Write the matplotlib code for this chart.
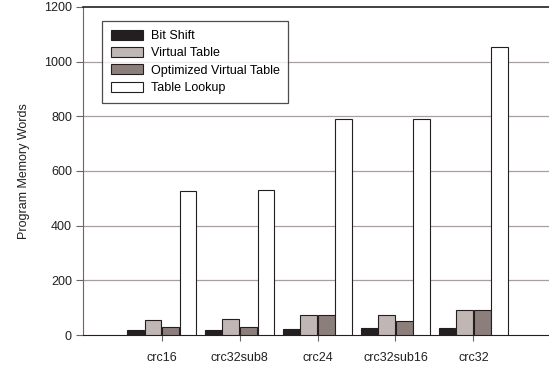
import matplotlib
matplotlib.use('Agg')
import matplotlib.pyplot as plt
import numpy as np

categories = ['crc16', 'crc32sub8', 'crc24', 'crc32sub16', 'crc32']
bit_shift = [19, 20, 23, 24, 27]
virtual_table = [55, 58, 73, 73, 91]
opt_virtual_table = [29, 30, 73, 52, 91]
table_lookup = [528, 531, 790, 791, 1055]

series = [
    ('Bit Shift', bit_shift, '#231f20'),
    ('Virtual Table', virtual_table, '#c0b6b4'),
    ('Optimized Virtual Table', opt_virtual_table, '#8c7f7b'),
    ('Table Lookup', table_lookup, '#ffffff'),
]

plt.rcParams['font.family'] = ['Liberation Sans', 'DejaVu Sans']
plt.rcParams['font.size'] = 9

fig = plt.figure(figsize=(5.49, 3.66), dpi=100)
ax = fig.add_axes([83 / 549, 31 / 366, 1 - 83 / 549, 328 / 366])

x = np.arange(len(categories))
w = 0.215
for i, (name, vals, col) in enumerate(series):
    ax.bar(x + (i - 1.5) * 0.225, vals, w, color=col, edgecolor='#231f20',
           linewidth=0.8, label=name, zorder=3)

ax.set_xlim(-1.01, 4.97)
ax.set_ylim(0, 1200)
ax.set_yticks(range(0, 1201, 200))
ax.set_xticks(x)
ax.set_xticklabels(categories)
ax.set_ylabel('Program Memory Words', color='#231f20', labelpad=10)

for y in range(200, 1200, 200):
    ax.axhline(y, color='#a89e9c', linewidth=0.9, zorder=1)
ax.axhline(1200, color='#231f20', linewidth=1.2, zorder=4, clip_on=False)

ax.spines['right'].set_visible(False)
ax.spines['top'].set_visible(False)
ax.spines['left'].set_color('#6d6563')
ax.spines['bottom'].set_color('#231f20')
ax.tick_params(axis='y', length=5, color='#6d6563', labelcolor='#231f20', pad=3)
ax.tick_params(axis='x', length=4, color='#6d6563', labelcolor='#231f20', pad=8)

leg = ax.legend(loc='upper left', bbox_to_anchor=(0.041, 0.957), frameon=True,
                fancybox=False, edgecolor='#231f20', handlelength=2.6,
                handleheight=0.85, labelspacing=0.4, borderpad=0.7,
                handletextpad=0.6, borderaxespad=0)
leg.get_frame().set_linewidth(0.9)

fig.savefig('out.png', dpi=100)
